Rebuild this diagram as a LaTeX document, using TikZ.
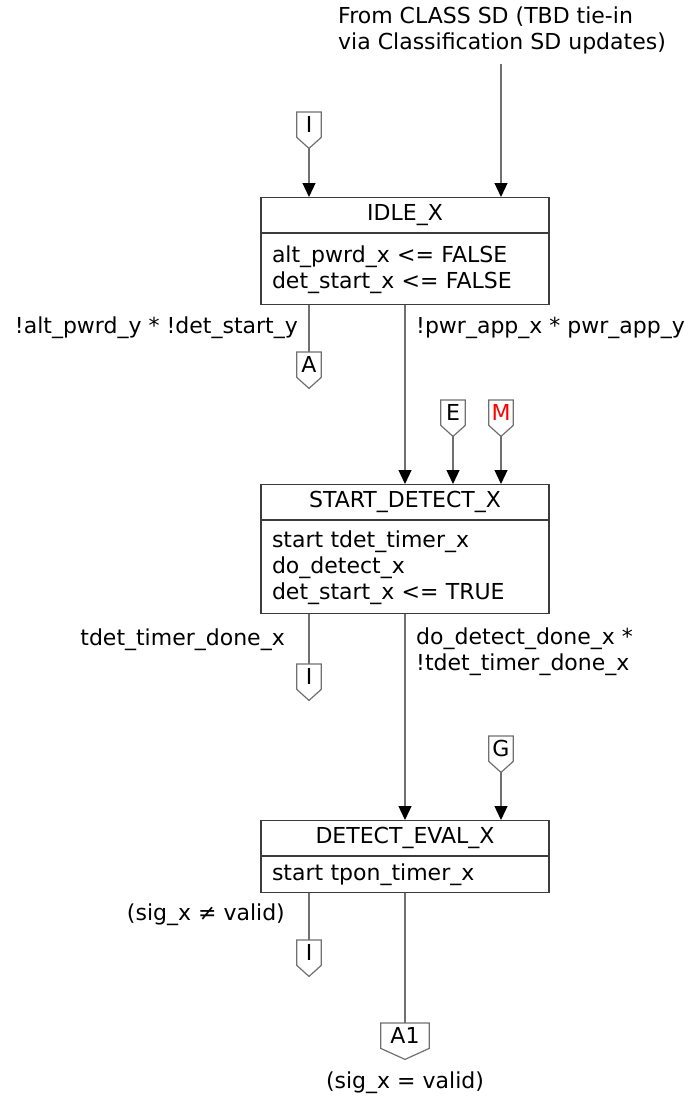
\documentclass[tikz,border=0pt]{standalone}
\usepackage{fontspec}
\setmainfont{DejaVu Sans}
\usetikzlibrary{positioning,arrows.meta}
\definecolor{linegray}{RGB}{112,112,112}
\definecolor{boxgray}{RGB}{60,60,60}

\begin{document}
\begin{tikzpicture}[x=1pt,y=-1pt,
	every node/.style={font=\fontsize{22}{26}\selectfont, inner sep=0pt},
	state/.style={draw=boxgray, line width=1.2pt, rectangle, minimum width=288pt, minimum height=35pt, anchor=north},
	body/.style={draw=boxgray, line width=1.2pt, rectangle, text width=266pt, inner xsep=11pt, align=left},
	tagline/.style={draw=linegray, line width=1.2pt},
	offpage/.style={rectangle, minimum width=24pt, minimum height=25pt, anchor=north,
		append after command={\pgfextra{\draw[tagline] (\tikzlastnode.north west) -- (\tikzlastnode.north east) -- (\tikzlastnode.south east) -- ([yshift=-11pt]\tikzlastnode.south) -- (\tikzlastnode.south west) -- cycle;}}},
	flow/.style={draw=linegray, line width=1.2pt, -{Triangle[length=14pt,width=13pt,color=black]}},
	wire/.style={draw=linegray, line width=1.2pt}]
	\useasboundingbox (0,0) rectangle (694,1100);

	% states
	\node (idle) [state] at (405,197) {IDLE\_X};
	\node (idle body) [body, below=0pt of idle, minimum height=71pt] {alt\_pwrd\_x <= FALSE\\det\_start\_x <= FALSE};
	\node (start) [state] at (405,484) {START\_DETECT\_X};
	\node (start body) [body, below=0pt of start, minimum height=93pt] {start tdet\_timer\_x\\do\_detect\_x\\det\_start\_x <= TRUE};
	\node (eval) [state] at (405,820) {DETECT\_EVAL\_X};
	\node (eval body) [body, below=0pt of eval, minimum height=36pt] {start tpon\_timer\_x};

	% off-page connectors
	\node (I1) [offpage] at (309,112) {I};
	\node (A) [offpage] at (309,352) {A};
	\node (E) [offpage] at (453,400) {E};
	\node (M) [offpage, text=red] at (501,400) {M};
	\node (I2) [offpage] at (309,664) {I};
	\node (G) [offpage] at (501,736) {G};
	\node (I3) [offpage] at (309,940) {I};
	\node (A1) [offpage, minimum width=48pt] at (405,1023) {A1};
	\coordinate (I1 tip) at ([yshift=-11pt]I1.south);
	\coordinate (E tip) at ([yshift=-11pt]E.south);
	\coordinate (M tip) at ([yshift=-11pt]M.south);
	\coordinate (G tip) at ([yshift=-11pt]G.south);

	% texts
	\node (class) [anchor=west, align=left] at (338,30) {From CLASS SD (TBD tie-in\\via Classification SD updates)};
	\coordinate (class end) at (501,64);
	\node (lbl A) [anchor=east] at (298,328) {!alt\_pwrd\_y * !det\_start\_y};
	\node (lbl pwr) [anchor=west] at (416,328) {!pwr\_app\_x * pwr\_app\_y};
	\node (lbl tdet) [anchor=east] at (285,640) {tdet\_timer\_done\_x};
	\node (lbl done) [anchor=west, align=left] at (416,652) {do\_detect\_done\_x *\\!tdet\_timer\_done\_x};
	\node (lbl ne) [anchor=east] at (285,915) {(sig\_x ≠ valid)};
	\node (lbl eq) at (405,1083) {(sig\_x = valid)};

	% transitions
	\draw [flow] (I1 tip) -- (I1 tip |- idle.north);
	\draw [flow] (class end) -- (class end |- idle.north);
	\draw [wire] (idle body.south -| A.north) -- (A.north);
	\draw [flow] (idle body.south) -- (start.north);
	\draw [flow] (E tip) -- (E tip |- start.north);
	\draw [flow] (M tip) -- (M tip |- start.north);
	\draw [wire] (start body.south -| I2.north) -- (I2.north);
	\draw [flow] (start body.south) -- (eval.north);
	\draw [flow] (G tip) -- (G tip |- eval.north);
	\draw [wire] (eval body.south -| I3.north) -- (I3.north);
	\draw [wire] (eval body.south) -- (A1.north);
\end{tikzpicture}
\end{document}
